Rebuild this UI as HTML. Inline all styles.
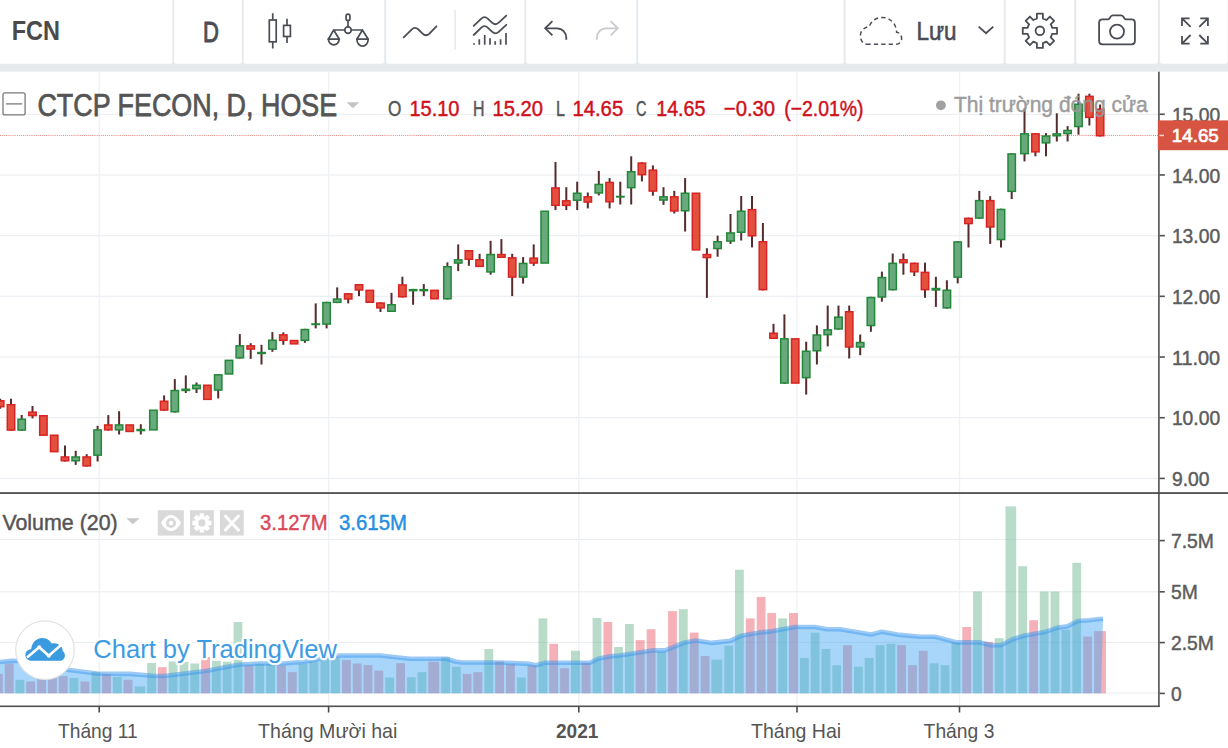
<!DOCTYPE html>
<html lang="vi">
<head>
<meta charset="utf-8">
<title>FCN - CTCP FECON</title>
<style>
html,body{margin:0;padding:0;background:#fff;}
body{width:1228px;height:748px;overflow:hidden;position:relative;font-family:"Liberation Sans",sans-serif;}
svg{position:absolute;left:0;top:0;display:block;}
text{font-family:"Liberation Sans",sans-serif;}
</style>
</head>
<body>
<svg width="1228" height="748" viewBox="0 0 1228 748">

<rect x="0" y="0" width="1228" height="748" fill="#ffffff"/>
<rect x="0" y="0" width="1228" height="71.7" fill="#e7eaed"/>
<path d="M0,0 H172.3 V61.3 Q172.3,63.8 169.8,63.8 H0 Z" fill="#fff"/>
<path d="M174.2,0 H241.8 V61.3 Q241.8,63.8 239.3,63.8 H176.7 Q174.2,63.8 174.2,61.3 Z" fill="#fff"/>
<path d="M243.8,0 H384.2 V61.3 Q384.2,63.8 381.7,63.8 H246.3 Q243.8,63.8 243.8,61.3 Z" fill="#fff"/>
<path d="M386.2,0 H524.3 V61.3 Q524.3,63.8 521.8,63.8 H388.7 Q386.2,63.8 386.2,61.3 Z" fill="#fff"/>
<path d="M526.3,0 H636.2 V61.3 Q636.2,63.8 633.7,63.8 H528.8 Q526.3,63.8 526.3,61.3 Z" fill="#fff"/>
<path d="M638.2,0 H843.6 V61.3 Q843.6,63.8 841.1,63.8 H640.7 Q638.2,63.8 638.2,61.3 Z" fill="#fff"/>
<path d="M845.7,0 H1003.7 V61.3 Q1003.7,63.8 1001.2,63.8 H848.2 Q845.7,63.8 845.7,61.3 Z" fill="#fff"/>
<path d="M1005.7,0 H1074.2 V61.3 Q1074.2,63.8 1071.7,63.8 H1008.2 Q1005.7,63.8 1005.7,61.3 Z" fill="#fff"/>
<path d="M1076.2,0 H1157.9 V61.3 Q1157.9,63.8 1155.4,63.8 H1078.7 Q1076.2,63.8 1076.2,61.3 Z" fill="#fff"/>
<path d="M1159.9,0 H1227.6 V61.3 Q1227.6,63.8 1225.1,63.8 H1162.4 Q1159.9,63.8 1159.9,61.3 Z" fill="#fff"/>
 <text x="11.7" y="39.8" font-size="27.6" font-weight="bold" fill="#4a4a4a" textLength="48.3" lengthAdjust="spacingAndGlyphs">FCN</text>
<text x="203.1" y="42" font-size="28.8" fill="#4a4d55" textLength="15.9" lengthAdjust="spacingAndGlyphs" stroke="#4a4d55" stroke-width="0.9">D</text>
<g fill="none" stroke="#4a4d55" stroke-width="1.7" stroke-linecap="butt"><rect x="269.3" y="20" width="6.9" height="21.8"/><path d="M272.75,13.3V20M272.75,41.8V48.5"/><rect x="283.6" y="25.4" width="6.8" height="11.1"/><path d="M287,18.7V25.4M287,36.5V43.1"/></g>
<g fill="none" stroke="#4a4d55" stroke-width="1.7" stroke-linejoin="round" stroke-linecap="round"><rect x="346.1" y="14.1" width="3.8" height="6.6" rx="1.9"/><path d="M348,20.7V26.7"/><circle cx="348" cy="30.1" r="3.3"/><path d="M344.7,30H333.7L328.3,39.2H339.3L333.7,30"/><path d="M351.3,30H362.4L356.9,39.2H368.2L362.4,30"/><path d="M328.3,39.2A5.6,6.9 0 0 0 339.3,39.2"/><path d="M356.9,39.2A5.6,6.9 0 0 0 368.2,39.2"/></g>
<g fill="none" stroke="#4a4d55" stroke-width="1.8" stroke-linecap="round" stroke-linejoin="round"><path d="M403.7,37.3L411.6,29.6C413.8,27.4 416.2,27.4 418.4,29.5L422.6,33.6C424.8,35.7 427.2,35.7 429.4,33.6L436.4,26.3"/></g>
<rect x="454.5" y="10" width="1.2" height="39.5" fill="#dfe1e5"/>
<g fill="none" stroke="#4a4d55" stroke-width="1.8" stroke-linecap="round" stroke-linejoin="round"><path d="M473.7,25.9L481.3,18.6C483.4,16.6 485.6,16.6 487.7,18.6L492.3,22.8C494.4,24.7 496.6,24.7 498.7,22.7L506.3,15.7"/><path d="M473.7,35L481.3,27.7C483.4,25.7 485.6,25.7 487.7,27.7L492.3,31.9C494.4,33.8 496.6,33.8 498.7,31.8L506.3,24.8"/></g>
<g fill="none" stroke="#4a4d55" stroke-width="1.7" stroke-linecap="butt"><path d="M474.1,43.2V44.8M479.3,39.2V44.8M484.7,34.9V44.8M490,38.3V44.8M495.2,41.3V44.8M500.6,39.2V44.8M506,32.9V44.8"/></g>
<g fill="none" stroke="#4a4d55" stroke-width="1.8" stroke-linecap="butt" stroke-linejoin="miter"><path d="M552.4,21.2L545.2,28.3L552.4,35.4"/><path d="M545.4,28.3H557C562.3,28.3 566.3,32.5 566.3,38V39.8"/></g>
<g fill="none" stroke="#c9cbcf" stroke-width="1.8" stroke-linecap="butt" stroke-linejoin="miter"><path d="M610.6,21.2L617.8,28.3L610.6,35.4"/><path d="M617.6,28.3H606C600.7,28.3 596.9,32.5 596.9,38V39.8"/></g>
<path d="M866.5,44.2H896.5C899.5,44.2 901.6,41.6 901.6,38.4C901.6,35 899.5,32.6 896.6,32.2C896.4,24 890.4,17.4 882.4,17.4C876.2,17.4 871.2,21 869.2,26.6C864.2,27.2 860.4,31 860.4,35.6C860.4,40.4 863.2,44.2 866.5,44.2Z" fill="none" stroke="#4a4d55" stroke-width="1.5" stroke-dasharray="4.2 3.2" stroke-linecap="butt"/>
<text x="916.5" y="39.7" font-size="25.6" fill="#4a4d55" stroke="#4a4d55" stroke-width="0.6" textLength="40" lengthAdjust="spacingAndGlyphs">Lưu</text>
<path d="M978.7,26.6L986,33.2L993.3,26.6" fill="none" stroke="#4a4d55" stroke-width="1.8"/>
<g fill="none" stroke="#4a4d55" stroke-width="1.8" stroke-linejoin="round"><path d="M1036.90,18.56L1036.90,13.66L1042.90,13.66L1042.90,18.56A12.6,12.6 0 0 1 1046.43,20.03L1049.90,16.56L1054.14,20.80L1050.67,24.27A12.6,12.6 0 0 1 1052.14,27.80L1057.04,27.80L1057.04,33.80L1052.14,33.80A12.6,12.6 0 0 1 1050.67,37.33L1054.14,40.80L1049.90,45.04L1046.43,41.57A12.6,12.6 0 0 1 1042.90,43.04L1042.90,47.94L1036.90,47.94L1036.90,43.04A12.6,12.6 0 0 1 1033.37,41.57L1029.90,45.04L1025.66,40.80L1029.13,37.33A12.6,12.6 0 0 1 1027.66,33.80L1022.76,33.80L1022.76,27.80L1027.66,27.80A12.6,12.6 0 0 1 1029.13,24.27L1025.66,20.80L1029.90,16.56L1033.37,20.03A12.6,12.6 0 0 1 1036.90,18.56Z"/><circle cx="1039.9" cy="30.8" r="4.3"/></g>
<g fill="none" stroke="#4a4d55" stroke-width="1.8" stroke-linejoin="round"><path d="M1102.4,19.4H1107.6C1108.6,19.4 1109.2,19 1109.7,18.2L1110.8,16.4C1111.3,15.6 1111.9,15.3 1112.9,15.3H1121.1C1122.1,15.3 1122.7,15.6 1123.2,16.4L1124.3,18.2C1124.8,19 1125.4,19.4 1126.4,19.4H1131.6C1133.6,19.4 1134.9,20.7 1134.9,22.7V41C1134.9,43 1133.6,44.3 1131.6,44.3H1102.4C1100.4,44.3 1099.1,43 1099.1,41V22.7C1099.1,20.7 1100.4,19.4 1102.4,19.4Z"/><circle cx="1117" cy="31.6" r="7"/></g>
<g fill="none" stroke="#4a4d55" stroke-width="1.8" stroke-linecap="butt" stroke-linejoin="miter"><path d="M1189.6,18.3H1182V25.9M1182,18.3L1190.6,26.9"/><path d="M1200.3,18.3H1207.9V25.9M1207.9,18.3L1199.3,26.9"/><path d="M1189.6,43.6H1182V36M1182,43.6L1190.6,35"/><path d="M1200.3,43.6H1207.9V36M1207.9,43.6L1199.3,35"/></g>
<rect x="0" y="113.8" width="1158" height="1" fill="#e8ebf0"/>
<rect x="0" y="174.5" width="1158" height="1" fill="#e8ebf0"/>
<rect x="0" y="235.2" width="1158" height="1" fill="#e8ebf0"/>
<rect x="0" y="295.8" width="1158" height="1" fill="#e8ebf0"/>
<rect x="0" y="356.5" width="1158" height="1" fill="#e8ebf0"/>
<rect x="0" y="417.2" width="1158" height="1" fill="#e8ebf0"/>
<rect x="0" y="477.9" width="1158" height="1" fill="#e8ebf0"/>
<rect x="0" y="539.1" width="1158" height="1" fill="#e8ebf0"/>
<rect x="0" y="591.3" width="1158" height="1" fill="#e8ebf0"/>
<rect x="0" y="641.9" width="1158" height="1" fill="#e8ebf0"/>
<rect x="0" y="692.5" width="1158" height="1" fill="#e8ebf0"/>
<rect x="98.5" y="71.7" width="1.4" height="634.5" fill="#eff2f4"/>
<rect x="327.90000000000003" y="71.7" width="1.4" height="634.5" fill="#eff2f4"/>
<rect x="578.0999999999999" y="71.7" width="1.4" height="634.5" fill="#eff2f4"/>
<rect x="796.3" y="71.7" width="1.4" height="634.5" fill="#eff2f4"/>
<rect x="958.8" y="71.7" width="1.4" height="634.5" fill="#eff2f4"/>
<g>
<rect x="-6.00" y="673.9" width="8.8" height="19.4" fill="rgba(236,100,112,0.5)"/>
<rect x="4.80" y="663.5" width="8.8" height="29.8" fill="rgba(236,100,112,0.5)"/>
<rect x="15.50" y="679.8" width="8.8" height="13.5" fill="rgba(113,185,147,0.5)"/>
<rect x="26.30" y="681.5" width="8.8" height="11.8" fill="rgba(236,100,112,0.5)"/>
<rect x="37.20" y="678" width="8.8" height="15.3" fill="rgba(236,100,112,0.5)"/>
<rect x="48.00" y="676" width="8.8" height="17.3" fill="rgba(236,100,112,0.5)"/>
<rect x="58.80" y="676.2" width="8.8" height="17.1" fill="rgba(236,100,112,0.5)"/>
<rect x="69.50" y="677.9" width="8.9" height="15.4" fill="rgba(113,185,147,0.5)"/>
<rect x="80.50" y="681.5" width="8.8" height="11.8" fill="rgba(236,100,112,0.5)"/>
<rect x="91.40" y="672.1" width="8.8" height="21.2" fill="rgba(113,185,147,0.5)"/>
<rect x="102.10" y="674.1" width="8.8" height="19.2" fill="rgba(236,100,112,0.5)"/>
<rect x="112.90" y="676.8" width="8.8" height="16.5" fill="rgba(113,185,147,0.5)"/>
<rect x="123.50" y="679.8" width="9.0" height="13.5" fill="rgba(236,100,112,0.5)"/>
<rect x="134.60" y="686.4" width="10.5" height="6.9" fill="rgba(113,185,147,0.5)"/>
<rect x="147.20" y="663" width="8.8" height="30.3" fill="rgba(113,185,147,0.5)"/>
<rect x="157.90" y="667.2" width="8.8" height="26.1" fill="rgba(236,100,112,0.5)"/>
<rect x="168.60" y="661.5" width="8.9" height="31.8" fill="rgba(113,185,147,0.5)"/>
<rect x="179.60" y="662" width="8.8" height="31.3" fill="rgba(113,185,147,0.5)"/>
<rect x="190.30" y="663.5" width="8.8" height="29.8" fill="rgba(113,185,147,0.5)"/>
<rect x="201.20" y="657" width="8.8" height="36.3" fill="rgba(236,100,112,0.5)"/>
<rect x="212.00" y="660.8" width="8.8" height="32.5" fill="rgba(113,185,147,0.5)"/>
<rect x="222.80" y="661.7" width="8.8" height="31.6" fill="rgba(113,185,147,0.5)"/>
<rect x="233.60" y="622" width="8.8" height="71.3" fill="rgba(113,185,147,0.5)"/>
<rect x="244.50" y="665.5" width="8.8" height="27.8" fill="rgba(236,100,112,0.5)"/>
<rect x="255.30" y="664" width="8.8" height="29.3" fill="rgba(113,185,147,0.5)"/>
<rect x="266.20" y="664" width="8.8" height="29.3" fill="rgba(113,185,147,0.5)"/>
<rect x="277.10" y="665.5" width="8.8" height="27.8" fill="rgba(236,100,112,0.5)"/>
<rect x="287.90" y="672.2" width="8.8" height="21.1" fill="rgba(236,100,112,0.5)"/>
<rect x="298.70" y="664" width="8.8" height="29.3" fill="rgba(113,185,147,0.5)"/>
<rect x="309.50" y="661.5" width="8.8" height="31.8" fill="rgba(113,185,147,0.5)"/>
<rect x="320.40" y="658.8" width="8.8" height="34.5" fill="rgba(113,185,147,0.5)"/>
<rect x="331.00" y="657.5" width="8.9" height="35.8" fill="rgba(113,185,147,0.5)"/>
<rect x="342.00" y="660.1" width="8.8" height="33.2" fill="rgba(236,100,112,0.5)"/>
<rect x="352.80" y="663.5" width="8.8" height="29.8" fill="rgba(236,100,112,0.5)"/>
<rect x="363.60" y="665.1" width="8.8" height="28.2" fill="rgba(236,100,112,0.5)"/>
<rect x="374.30" y="670.6" width="8.9" height="22.7" fill="rgba(236,100,112,0.5)"/>
<rect x="385.30" y="677.5" width="8.8" height="15.8" fill="rgba(113,185,147,0.5)"/>
<rect x="396.20" y="663.2" width="8.8" height="30.1" fill="rgba(236,100,112,0.5)"/>
<rect x="406.90" y="677.2" width="8.8" height="16.1" fill="rgba(113,185,147,0.5)"/>
<rect x="417.60" y="672.2" width="8.8" height="21.1" fill="rgba(113,185,147,0.5)"/>
<rect x="428.30" y="661.7" width="10.8" height="31.6" fill="rgba(236,100,112,0.5)"/>
<rect x="441.20" y="657.5" width="8.8" height="35.8" fill="rgba(113,185,147,0.5)"/>
<rect x="452.00" y="666.8" width="8.8" height="26.5" fill="rgba(113,185,147,0.5)"/>
<rect x="462.70" y="673.9" width="8.8" height="19.4" fill="rgba(236,100,112,0.5)"/>
<rect x="473.40" y="672.2" width="8.9" height="21.1" fill="rgba(236,100,112,0.5)"/>
<rect x="484.40" y="649" width="8.8" height="44.3" fill="rgba(113,185,147,0.5)"/>
<rect x="495.20" y="661.5" width="8.8" height="31.8" fill="rgba(236,100,112,0.5)"/>
<rect x="506.00" y="664.1" width="8.8" height="29.2" fill="rgba(236,100,112,0.5)"/>
<rect x="516.90" y="677.5" width="8.8" height="15.8" fill="rgba(113,185,147,0.5)"/>
<rect x="527.50" y="665.5" width="8.9" height="27.8" fill="rgba(236,100,112,0.5)"/>
<rect x="538.50" y="618.4" width="8.8" height="74.9" fill="rgba(113,185,147,0.5)"/>
<rect x="549.30" y="643.8" width="8.8" height="49.5" fill="rgba(236,100,112,0.5)"/>
<rect x="560.10" y="668.2" width="8.8" height="25.1" fill="rgba(236,100,112,0.5)"/>
<rect x="571.00" y="650.8" width="8.8" height="42.5" fill="rgba(113,185,147,0.5)"/>
<rect x="581.60" y="662.8" width="8.9" height="30.5" fill="rgba(236,100,112,0.5)"/>
<rect x="592.60" y="618" width="8.8" height="75.3" fill="rgba(113,185,147,0.5)"/>
<rect x="603.40" y="622" width="8.8" height="71.3" fill="rgba(236,100,112,0.5)"/>
<rect x="614.10" y="647" width="8.8" height="46.3" fill="rgba(113,185,147,0.5)"/>
<rect x="625.00" y="624" width="8.8" height="69.3" fill="rgba(113,185,147,0.5)"/>
<rect x="635.70" y="640.1" width="8.9" height="53.2" fill="rgba(236,100,112,0.5)"/>
<rect x="646.70" y="629.2" width="8.8" height="64.1" fill="rgba(236,100,112,0.5)"/>
<rect x="657.30" y="652" width="8.8" height="41.3" fill="rgba(113,185,147,0.5)"/>
<rect x="668.10" y="611.1" width="8.8" height="82.2" fill="rgba(236,100,112,0.5)"/>
<rect x="678.90" y="609.2" width="8.8" height="84.1" fill="rgba(113,185,147,0.5)"/>
<rect x="689.80" y="632.6" width="8.8" height="60.7" fill="rgba(236,100,112,0.5)"/>
<rect x="700.70" y="656" width="8.8" height="37.3" fill="rgba(236,100,112,0.5)"/>
<rect x="711.40" y="659.6" width="10.8" height="33.7" fill="rgba(113,185,147,0.5)"/>
<rect x="724.30" y="645.7" width="8.8" height="47.6" fill="rgba(113,185,147,0.5)"/>
<rect x="735.00" y="569.7" width="8.8" height="123.6" fill="rgba(113,185,147,0.5)"/>
<rect x="745.80" y="618.4" width="8.8" height="74.9" fill="rgba(236,100,112,0.5)"/>
<rect x="756.70" y="596.9" width="8.8" height="96.4" fill="rgba(236,100,112,0.5)"/>
<rect x="767.30" y="613" width="8.8" height="80.3" fill="rgba(236,100,112,0.5)"/>
<rect x="778.20" y="618.4" width="8.8" height="74.9" fill="rgba(113,185,147,0.5)"/>
<rect x="789.00" y="613" width="8.9" height="80.3" fill="rgba(236,100,112,0.5)"/>
<rect x="800.00" y="657.9" width="8.8" height="35.4" fill="rgba(113,185,147,0.5)"/>
<rect x="810.70" y="632.6" width="8.8" height="60.7" fill="rgba(113,185,147,0.5)"/>
<rect x="821.50" y="648.9" width="8.8" height="44.4" fill="rgba(113,185,147,0.5)"/>
<rect x="832.30" y="665.2" width="8.8" height="28.1" fill="rgba(113,185,147,0.5)"/>
<rect x="843.00" y="645.2" width="8.9" height="48.1" fill="rgba(236,100,112,0.5)"/>
<rect x="854.00" y="666.7" width="8.8" height="26.6" fill="rgba(113,185,147,0.5)"/>
<rect x="864.70" y="657.9" width="8.9" height="35.4" fill="rgba(113,185,147,0.5)"/>
<rect x="875.70" y="645.2" width="8.8" height="48.1" fill="rgba(113,185,147,0.5)"/>
<rect x="886.50" y="643.7" width="8.8" height="49.6" fill="rgba(113,185,147,0.5)"/>
<rect x="897.20" y="645.2" width="8.8" height="48.1" fill="rgba(236,100,112,0.5)"/>
<rect x="908.10" y="665.2" width="8.8" height="28.1" fill="rgba(236,100,112,0.5)"/>
<rect x="918.80" y="650.8" width="8.8" height="42.5" fill="rgba(236,100,112,0.5)"/>
<rect x="929.70" y="663.3" width="8.9" height="30.0" fill="rgba(113,185,147,0.5)"/>
<rect x="940.70" y="665.2" width="8.8" height="28.1" fill="rgba(113,185,147,0.5)"/>
<rect x="951.50" y="642.4" width="8.8" height="50.9" fill="rgba(113,185,147,0.5)"/>
<rect x="962.30" y="627" width="8.8" height="66.3" fill="rgba(236,100,112,0.5)"/>
<rect x="973.10" y="591.4" width="8.8" height="101.9" fill="rgba(113,185,147,0.5)"/>
<rect x="984.00" y="641.8" width="8.8" height="51.5" fill="rgba(236,100,112,0.5)"/>
<rect x="994.80" y="638.2" width="8.8" height="55.1" fill="rgba(113,185,147,0.5)"/>
<rect x="1005.50" y="506.4" width="10.7" height="186.9" fill="rgba(113,185,147,0.5)"/>
<rect x="1018.30" y="566.2" width="8.8" height="127.1" fill="rgba(113,185,147,0.5)"/>
<rect x="1029.20" y="620.2" width="8.8" height="73.1" fill="rgba(236,100,112,0.5)"/>
<rect x="1039.80" y="591.5" width="8.8" height="101.8" fill="rgba(113,185,147,0.5)"/>
<rect x="1050.60" y="591.5" width="8.8" height="101.8" fill="rgba(113,185,147,0.5)"/>
<rect x="1061.40" y="629.7" width="8.8" height="63.6" fill="rgba(113,185,147,0.5)"/>
<rect x="1072.30" y="562.8" width="8.8" height="130.5" fill="rgba(113,185,147,0.5)"/>
<rect x="1083.20" y="636.5" width="8.8" height="56.8" fill="rgba(236,100,112,0.5)"/>
<rect x="1094.1" y="631.1" width="11.8" height="62.2" fill="rgba(236,100,112,0.5)"/>
</g>
<path d="M-3,662.3 L0,662 L11,660.8 L22,661 L33,662.5 L43,664.5 L54,667 L65,669.5 L75,670.8 L97,673.5 L130,673.9 L153,675.8 L164,676 L185,673.5 L207,670.8 L229,666.5 L240,664.5 L260,663.5 L283,663.5 L305,661.7 L326,657.5 L340,655.5 L380,655.5 L410,658.8 L447,658.8 L455,661.5 L462,662.5 L500,662.5 L530,663.9 L536,665.2 L545,662.8 L590,662.8 L598,658.8 L612,656.1 L620,655.5 L652,650.4 L665,650.4 L685,642.4 L696,640.5 L712,642.9 L730,640.9 L741,635.8 L763,632.1 L773,631.1 L795,627 L815,627 L827,629.2 L840,629.2 L871,634.5 L882,631.7 L900,634.9 L920,636.7 L935,636.7 L957,642.4 L980,642.4 L991,645.2 L1001,645.2 L1012,639.5 L1024,635.8 L1046,631.7 L1057,627.8 L1067,626.4 L1078,621 L1089,620.3 L1100,619 L1103,618.7 L1101,693.3 L-3,693.3 Z" fill="rgba(66,166,244,0.46)"/>
<path d="M-3,662.3 L0,662 L11,660.8 L22,661 L33,662.5 L43,664.5 L54,667 L65,669.5 L75,670.8 L97,673.5 L130,673.9 L153,675.8 L164,676 L185,673.5 L207,670.8 L229,666.5 L240,664.5 L260,663.5 L283,663.5 L305,661.7 L326,657.5 L340,655.5 L380,655.5 L410,658.8 L447,658.8 L455,661.5 L462,662.5 L500,662.5 L530,663.9 L536,665.2 L545,662.8 L590,662.8 L598,658.8 L612,656.1 L620,655.5 L652,650.4 L665,650.4 L685,642.4 L696,640.5 L712,642.9 L730,640.9 L741,635.8 L763,632.1 L773,631.1 L795,627 L815,627 L827,629.2 L840,629.2 L871,634.5 L882,631.7 L900,634.9 L920,636.7 L935,636.7 L957,642.4 L980,642.4 L991,645.2 L1001,645.2 L1012,639.5 L1024,635.8 L1046,631.7 L1057,627.8 L1067,626.4 L1078,621 L1089,620.3 L1100,619 L1103,618.7" fill="none"  stroke="rgba(60,150,235,0.5)" stroke-width="4.6" stroke-linecap="butt" stroke-linejoin="round"/>
<path d="M0,135.5H1158"  stroke="#e2685f" stroke-opacity="0.8" stroke-width="1" stroke-dasharray="1 1.1" fill="none"/>
<g>
<rect x="-0.80" y="398.7" width="2" height="10.0" fill="#552d2d"/>
<rect x="-3.50" y="400.75" width="7.4" height="5.90" fill="#e4503e" stroke="#d72323" stroke-width="1.5"/>
<rect x="10.00" y="398.7" width="2" height="32.1" fill="#552d2d"/>
<rect x="7.30" y="404.75" width="7.4" height="25.30" fill="#e4503e" stroke="#d72323" stroke-width="1.5"/>
<rect x="20.70" y="415" width="2" height="15.8" fill="#552d2d"/>
<rect x="18.00" y="419.25" width="7.4" height="10.80" fill="#69aa7d" stroke="#23873a" stroke-width="1.5"/>
<rect x="31.50" y="406" width="2" height="12.4" fill="#552d2d"/>
<rect x="28.80" y="412.15" width="7.4" height="3.40" fill="#e4503e" stroke="#d72323" stroke-width="1.5"/>
<rect x="39.70" y="415.75" width="7.4" height="19.40" fill="#e4503e" stroke="#d72323" stroke-width="1.5"/>
<rect x="50.50" y="435.25" width="7.4" height="16.40" fill="#e4503e" stroke="#d72323" stroke-width="1.5"/>
<rect x="64.00" y="445.5" width="2" height="16.0" fill="#552d2d"/>
<rect x="61.30" y="456.95" width="7.4" height="3.80" fill="#e4503e" stroke="#d72323" stroke-width="1.5"/>
<rect x="74.70" y="450.8" width="2" height="14.1" fill="#552d2d"/>
<rect x="72.00" y="456.95" width="7.4" height="3.80" fill="#69aa7d" stroke="#23873a" stroke-width="1.5"/>
<rect x="85.70" y="454.2" width="2" height="12.4" fill="#552d2d"/>
<rect x="83.00" y="456.95" width="7.4" height="8.90" fill="#e4503e" stroke="#d72323" stroke-width="1.5"/>
<rect x="96.60" y="425.8" width="2" height="35.7" fill="#552d2d"/>
<rect x="93.90" y="429.95" width="7.4" height="25.20" fill="#69aa7d" stroke="#23873a" stroke-width="1.5"/>
<rect x="107.30" y="415.1" width="2" height="15.5" fill="#552d2d"/>
<rect x="104.60" y="424.95" width="7.4" height="4.90" fill="#e4503e" stroke="#d72323" stroke-width="1.5"/>
<rect x="118.10" y="411.2" width="2" height="23.3" fill="#552d2d"/>
<rect x="115.40" y="424.95" width="7.4" height="4.90" fill="#69aa7d" stroke="#23873a" stroke-width="1.5"/>
<rect x="126.00" y="424.95" width="7.4" height="6.50" fill="#e4503e" stroke="#d72323" stroke-width="1.5"/>
<rect x="139.80" y="424.2" width="2" height="10.3" fill="#552d2d"/>
<rect x="136.35" y="428.8" width="8.9" height="2.5" fill="#23873a"/>
<rect x="149.70" y="410.25" width="7.4" height="19.60" fill="#69aa7d" stroke="#23873a" stroke-width="1.5"/>
<rect x="163.10" y="395.4" width="2" height="15.4" fill="#552d2d"/>
<rect x="160.40" y="401.25" width="7.4" height="8.80" fill="#e4503e" stroke="#d72323" stroke-width="1.5"/>
<rect x="173.80" y="379.1" width="2" height="33.4" fill="#552d2d"/>
<rect x="171.10" y="390.55" width="7.4" height="21.20" fill="#69aa7d" stroke="#23873a" stroke-width="1.5"/>
<rect x="184.80" y="375.4" width="2" height="17.6" fill="#552d2d"/>
<rect x="181.35" y="388.5" width="8.9" height="2.7" fill="#23873a"/>
<rect x="195.50" y="382.5" width="2" height="10.5" fill="#552d2d"/>
<rect x="192.80" y="385.25" width="7.4" height="3.40" fill="#69aa7d" stroke="#23873a" stroke-width="1.5"/>
<rect x="203.70" y="385.25" width="7.4" height="14.10" fill="#e4503e" stroke="#d72323" stroke-width="1.5"/>
<rect x="217.20" y="374.1" width="2" height="24.3" fill="#552d2d"/>
<rect x="214.50" y="374.85" width="7.4" height="15.20" fill="#69aa7d" stroke="#23873a" stroke-width="1.5"/>
<rect x="225.30" y="360.35" width="7.4" height="13.60" fill="#69aa7d" stroke="#23873a" stroke-width="1.5"/>
<rect x="238.80" y="334.1" width="2" height="24.5" fill="#552d2d"/>
<rect x="236.10" y="345.85" width="7.4" height="12.00" fill="#69aa7d" stroke="#23873a" stroke-width="1.5"/>
<rect x="249.70" y="343.2" width="2" height="15.7" fill="#552d2d"/>
<rect x="247.00" y="345.85" width="7.4" height="3.20" fill="#e4503e" stroke="#d72323" stroke-width="1.5"/>
<rect x="260.50" y="344.8" width="2" height="19.7" fill="#552d2d"/>
<rect x="257.05" y="351.8" width="8.9" height="2.4" fill="#23873a"/>
<rect x="271.40" y="332.1" width="2" height="19.7" fill="#552d2d"/>
<rect x="268.70" y="340.25" width="7.4" height="8.90" fill="#69aa7d" stroke="#23873a" stroke-width="1.5"/>
<rect x="282.30" y="332.4" width="2" height="12.4" fill="#552d2d"/>
<rect x="279.60" y="334.85" width="7.4" height="5.50" fill="#e4503e" stroke="#d72323" stroke-width="1.5"/>
<rect x="290.40" y="340.55" width="7.4" height="3.30" fill="#e4503e" stroke="#d72323" stroke-width="1.5"/>
<rect x="303.90" y="328.8" width="2" height="14.0" fill="#552d2d"/>
<rect x="301.20" y="329.55" width="7.4" height="10.80" fill="#69aa7d" stroke="#23873a" stroke-width="1.5"/>
<rect x="314.70" y="303.4" width="2" height="25.0" fill="#552d2d"/>
<rect x="311.25" y="323.2" width="8.9" height="2.0" fill="#23873a"/>
<rect x="325.60" y="301.8" width="2" height="26.6" fill="#552d2d"/>
<rect x="322.90" y="302.55" width="7.4" height="21.50" fill="#69aa7d" stroke="#23873a" stroke-width="1.5"/>
<rect x="336.20" y="287.4" width="2" height="15.7" fill="#552d2d"/>
<rect x="333.50" y="299.05" width="7.4" height="3.30" fill="#69aa7d" stroke="#23873a" stroke-width="1.5"/>
<rect x="347.20" y="293.1" width="2" height="10.3" fill="#552d2d"/>
<rect x="344.50" y="293.85" width="7.4" height="5.10" fill="#e4503e" stroke="#d72323" stroke-width="1.5"/>
<rect x="358.00" y="284" width="2" height="12.1" fill="#552d2d"/>
<rect x="355.30" y="284.75" width="7.4" height="5.20" fill="#e4503e" stroke="#d72323" stroke-width="1.5"/>
<rect x="366.10" y="290.35" width="7.4" height="11.90" fill="#e4503e" stroke="#d72323" stroke-width="1.5"/>
<rect x="379.50" y="302.3" width="2" height="9.7" fill="#552d2d"/>
<rect x="376.80" y="303.05" width="7.4" height="4.80" fill="#e4503e" stroke="#d72323" stroke-width="1.5"/>
<rect x="390.50" y="292.8" width="2" height="19.2" fill="#552d2d"/>
<rect x="387.80" y="304.75" width="7.4" height="6.50" fill="#69aa7d" stroke="#23873a" stroke-width="1.5"/>
<rect x="401.40" y="276.7" width="2" height="20.8" fill="#552d2d"/>
<rect x="398.70" y="284.95" width="7.4" height="11.80" fill="#e4503e" stroke="#d72323" stroke-width="1.5"/>
<rect x="412.10" y="288.9" width="2" height="15.9" fill="#552d2d"/>
<rect x="408.65" y="288.9" width="8.9" height="2.5" fill="#23873a"/>
<rect x="422.80" y="284.1" width="2" height="12.0" fill="#552d2d"/>
<rect x="419.35" y="288.9" width="8.9" height="2.5" fill="#23873a"/>
<rect x="430.80" y="290.35" width="7.4" height="8.40" fill="#e4503e" stroke="#d72323" stroke-width="1.5"/>
<rect x="446.40" y="262.4" width="2" height="37.1" fill="#552d2d"/>
<rect x="443.70" y="266.75" width="7.4" height="32.00" fill="#69aa7d" stroke="#23873a" stroke-width="1.5"/>
<rect x="457.20" y="244.4" width="2" height="26.7" fill="#552d2d"/>
<rect x="454.50" y="259.85" width="7.4" height="3.20" fill="#69aa7d" stroke="#23873a" stroke-width="1.5"/>
<rect x="467.90" y="250" width="2" height="15.8" fill="#552d2d"/>
<rect x="465.20" y="250.75" width="7.4" height="8.50" fill="#e4503e" stroke="#d72323" stroke-width="1.5"/>
<rect x="478.60" y="253.8" width="2" height="13.3" fill="#552d2d"/>
<rect x="475.90" y="259.85" width="7.4" height="6.50" fill="#e4503e" stroke="#d72323" stroke-width="1.5"/>
<rect x="489.60" y="240.8" width="2" height="33.9" fill="#552d2d"/>
<rect x="486.90" y="254.55" width="7.4" height="17.40" fill="#69aa7d" stroke="#23873a" stroke-width="1.5"/>
<rect x="500.40" y="239.1" width="2" height="18.9" fill="#552d2d"/>
<rect x="497.70" y="254.55" width="7.4" height="2.70" fill="#e4503e" stroke="#d72323" stroke-width="1.5"/>
<rect x="511.20" y="253.8" width="2" height="42.3" fill="#552d2d"/>
<rect x="508.50" y="257.85" width="7.4" height="19.20" fill="#e4503e" stroke="#d72323" stroke-width="1.5"/>
<rect x="522.10" y="257.1" width="2" height="26.5" fill="#552d2d"/>
<rect x="519.40" y="263.45" width="7.4" height="13.60" fill="#69aa7d" stroke="#23873a" stroke-width="1.5"/>
<rect x="532.70" y="244.4" width="2" height="21.4" fill="#552d2d"/>
<rect x="530.00" y="258.15" width="7.4" height="4.90" fill="#e4503e" stroke="#d72323" stroke-width="1.5"/>
<rect x="541.00" y="211.25" width="7.4" height="51.80" fill="#69aa7d" stroke="#23873a" stroke-width="1.5"/>
<rect x="554.50" y="162" width="2" height="48.1" fill="#552d2d"/>
<rect x="551.80" y="187.95" width="7.4" height="17.40" fill="#e4503e" stroke="#d72323" stroke-width="1.5"/>
<rect x="565.30" y="187.2" width="2" height="22.9" fill="#552d2d"/>
<rect x="562.60" y="200.85" width="7.4" height="4.50" fill="#e4503e" stroke="#d72323" stroke-width="1.5"/>
<rect x="576.20" y="181.7" width="2" height="28.4" fill="#552d2d"/>
<rect x="573.50" y="193.25" width="7.4" height="7.00" fill="#69aa7d" stroke="#23873a" stroke-width="1.5"/>
<rect x="586.80" y="192.5" width="2" height="15.9" fill="#552d2d"/>
<rect x="584.10" y="196.85" width="7.4" height="5.20" fill="#e4503e" stroke="#d72323" stroke-width="1.5"/>
<rect x="597.80" y="171" width="2" height="24.4" fill="#552d2d"/>
<rect x="595.10" y="184.45" width="7.4" height="8.50" fill="#69aa7d" stroke="#23873a" stroke-width="1.5"/>
<rect x="608.60" y="178.1" width="2" height="30.3" fill="#552d2d"/>
<rect x="605.90" y="182.45" width="7.4" height="19.30" fill="#e4503e" stroke="#d72323" stroke-width="1.5"/>
<rect x="619.30" y="181.7" width="2" height="22.8" fill="#552d2d"/>
<rect x="615.85" y="195.7" width="8.9" height="2.0" fill="#23873a"/>
<rect x="630.20" y="156.3" width="2" height="48.2" fill="#552d2d"/>
<rect x="627.50" y="171.75" width="7.4" height="15.90" fill="#69aa7d" stroke="#23873a" stroke-width="1.5"/>
<rect x="640.90" y="162.3" width="2" height="19.1" fill="#552d2d"/>
<rect x="638.20" y="163.05" width="7.4" height="11.60" fill="#e4503e" stroke="#d72323" stroke-width="1.5"/>
<rect x="651.90" y="165.4" width="2" height="30.3" fill="#552d2d"/>
<rect x="649.20" y="170.15" width="7.4" height="20.90" fill="#e4503e" stroke="#d72323" stroke-width="1.5"/>
<rect x="662.50" y="187.2" width="2" height="17.6" fill="#552d2d"/>
<rect x="659.80" y="196.85" width="7.4" height="3.20" fill="#69aa7d" stroke="#23873a" stroke-width="1.5"/>
<rect x="673.30" y="190.8" width="2" height="22.7" fill="#552d2d"/>
<rect x="670.60" y="196.85" width="7.4" height="14.10" fill="#e4503e" stroke="#d72323" stroke-width="1.5"/>
<rect x="684.10" y="178.1" width="2" height="53.4" fill="#552d2d"/>
<rect x="681.40" y="193.25" width="7.4" height="17.50" fill="#69aa7d" stroke="#23873a" stroke-width="1.5"/>
<rect x="692.30" y="193.25" width="7.4" height="56.60" fill="#e4503e" stroke="#d72323" stroke-width="1.5"/>
<rect x="705.90" y="248.2" width="2" height="49.7" fill="#552d2d"/>
<rect x="703.20" y="254.55" width="7.4" height="3.00" fill="#e4503e" stroke="#d72323" stroke-width="1.5"/>
<rect x="716.60" y="235.7" width="2" height="21.0" fill="#552d2d"/>
<rect x="713.90" y="241.75" width="7.4" height="6.80" fill="#69aa7d" stroke="#23873a" stroke-width="1.5"/>
<rect x="729.50" y="214" width="2" height="29.9" fill="#552d2d"/>
<rect x="726.80" y="232.95" width="7.4" height="8.10" fill="#69aa7d" stroke="#23873a" stroke-width="1.5"/>
<rect x="740.20" y="196" width="2" height="44.5" fill="#552d2d"/>
<rect x="737.50" y="211.25" width="7.4" height="21.00" fill="#69aa7d" stroke="#23873a" stroke-width="1.5"/>
<rect x="751.00" y="196" width="2" height="51.4" fill="#552d2d"/>
<rect x="748.30" y="209.65" width="7.4" height="26.10" fill="#e4503e" stroke="#d72323" stroke-width="1.5"/>
<rect x="761.90" y="223" width="2" height="67.4" fill="#552d2d"/>
<rect x="759.20" y="241.75" width="7.4" height="47.90" fill="#e4503e" stroke="#d72323" stroke-width="1.5"/>
<rect x="772.50" y="323.8" width="2" height="15.2" fill="#552d2d"/>
<rect x="769.80" y="333.25" width="7.4" height="5.00" fill="#e4503e" stroke="#d72323" stroke-width="1.5"/>
<rect x="783.40" y="314.4" width="2" height="69.4" fill="#552d2d"/>
<rect x="780.70" y="338.85" width="7.4" height="44.20" fill="#69aa7d" stroke="#23873a" stroke-width="1.5"/>
<rect x="791.50" y="338.85" width="7.4" height="44.20" fill="#e4503e" stroke="#d72323" stroke-width="1.5"/>
<rect x="805.20" y="341.7" width="2" height="52.9" fill="#552d2d"/>
<rect x="802.50" y="351.25" width="7.4" height="26.40" fill="#69aa7d" stroke="#23873a" stroke-width="1.5"/>
<rect x="815.90" y="325.4" width="2" height="39.1" fill="#552d2d"/>
<rect x="813.20" y="335.05" width="7.4" height="15.70" fill="#69aa7d" stroke="#23873a" stroke-width="1.5"/>
<rect x="826.70" y="305.6" width="2" height="40.8" fill="#552d2d"/>
<rect x="824.00" y="329.85" width="7.4" height="4.80" fill="#69aa7d" stroke="#23873a" stroke-width="1.5"/>
<rect x="837.50" y="305.6" width="2" height="24.1" fill="#552d2d"/>
<rect x="834.80" y="317.15" width="7.4" height="11.80" fill="#69aa7d" stroke="#23873a" stroke-width="1.5"/>
<rect x="848.20" y="305.6" width="2" height="52.9" fill="#552d2d"/>
<rect x="845.50" y="311.75" width="7.4" height="35.20" fill="#e4503e" stroke="#d72323" stroke-width="1.5"/>
<rect x="859.20" y="334.5" width="2" height="20.7" fill="#552d2d"/>
<rect x="856.50" y="342.55" width="7.4" height="4.40" fill="#69aa7d" stroke="#23873a" stroke-width="1.5"/>
<rect x="869.90" y="296.8" width="2" height="35.0" fill="#552d2d"/>
<rect x="867.20" y="297.55" width="7.4" height="28.00" fill="#69aa7d" stroke="#23873a" stroke-width="1.5"/>
<rect x="880.90" y="271.6" width="2" height="30.1" fill="#552d2d"/>
<rect x="878.20" y="277.55" width="7.4" height="19.40" fill="#69aa7d" stroke="#23873a" stroke-width="1.5"/>
<rect x="891.70" y="253.5" width="2" height="36.9" fill="#552d2d"/>
<rect x="889.00" y="263.35" width="7.4" height="26.30" fill="#69aa7d" stroke="#23873a" stroke-width="1.5"/>
<rect x="902.40" y="253.5" width="2" height="21.2" fill="#552d2d"/>
<rect x="899.70" y="259.85" width="7.4" height="2.80" fill="#e4503e" stroke="#d72323" stroke-width="1.5"/>
<rect x="913.30" y="262.6" width="2" height="13.5" fill="#552d2d"/>
<rect x="910.60" y="263.35" width="7.4" height="8.40" fill="#e4503e" stroke="#d72323" stroke-width="1.5"/>
<rect x="924.00" y="262.6" width="2" height="35.2" fill="#552d2d"/>
<rect x="921.30" y="272.35" width="7.4" height="17.30" fill="#e4503e" stroke="#d72323" stroke-width="1.5"/>
<rect x="934.90" y="276.8" width="2" height="30.1" fill="#552d2d"/>
<rect x="931.45" y="287.8" width="8.9" height="2.9" fill="#23873a"/>
<rect x="945.90" y="280.3" width="2" height="28.3" fill="#552d2d"/>
<rect x="943.20" y="290.25" width="7.4" height="17.60" fill="#69aa7d" stroke="#23873a" stroke-width="1.5"/>
<rect x="956.70" y="241.2" width="2" height="42.2" fill="#552d2d"/>
<rect x="954.00" y="241.95" width="7.4" height="35.20" fill="#69aa7d" stroke="#23873a" stroke-width="1.5"/>
<rect x="967.50" y="217.6" width="2" height="29.9" fill="#552d2d"/>
<rect x="964.80" y="218.35" width="7.4" height="5.20" fill="#e4503e" stroke="#d72323" stroke-width="1.5"/>
<rect x="978.30" y="190.9" width="2" height="27.9" fill="#552d2d"/>
<rect x="975.60" y="200.65" width="7.4" height="17.40" fill="#69aa7d" stroke="#23873a" stroke-width="1.5"/>
<rect x="989.20" y="196.2" width="2" height="47.7" fill="#552d2d"/>
<rect x="986.50" y="200.65" width="7.4" height="26.30" fill="#e4503e" stroke="#d72323" stroke-width="1.5"/>
<rect x="1000.00" y="208.7" width="2" height="38.8" fill="#552d2d"/>
<rect x="997.30" y="209.45" width="7.4" height="30.10" fill="#69aa7d" stroke="#23873a" stroke-width="1.5"/>
<rect x="1010.70" y="153.2" width="2" height="45.9" fill="#552d2d"/>
<rect x="1008.00" y="153.95" width="7.4" height="37.40" fill="#69aa7d" stroke="#23873a" stroke-width="1.5"/>
<rect x="1023.50" y="108.5" width="2" height="52.9" fill="#552d2d"/>
<rect x="1020.80" y="133.85" width="7.4" height="19.80" fill="#69aa7d" stroke="#23873a" stroke-width="1.5"/>
<rect x="1034.40" y="133.1" width="2" height="23.2" fill="#552d2d"/>
<rect x="1031.70" y="133.85" width="7.4" height="18.00" fill="#e4503e" stroke="#d72323" stroke-width="1.5"/>
<rect x="1045.00" y="133.1" width="2" height="23.2" fill="#552d2d"/>
<rect x="1042.30" y="136.05" width="7.4" height="6.80" fill="#69aa7d" stroke="#23873a" stroke-width="1.5"/>
<rect x="1055.80" y="113.3" width="2" height="28.2" fill="#552d2d"/>
<rect x="1053.10" y="133.85" width="7.4" height="1.90" fill="#69aa7d" stroke="#23873a" stroke-width="1.5"/>
<rect x="1066.60" y="126.1" width="2" height="15.4" fill="#552d2d"/>
<rect x="1063.90" y="130.45" width="7.4" height="3.10" fill="#69aa7d" stroke="#23873a" stroke-width="1.5"/>
<rect x="1077.50" y="93.7" width="2" height="41.0" fill="#552d2d"/>
<rect x="1074.80" y="104.25" width="7.4" height="22.30" fill="#69aa7d" stroke="#23873a" stroke-width="1.5"/>
<rect x="1088.40" y="93.7" width="2" height="31.8" fill="#552d2d"/>
<rect x="1085.70" y="96.35" width="7.4" height="21.00" fill="#e4503e" stroke="#d72323" stroke-width="1.5"/>
<rect x="1099.10" y="104.5" width="2" height="32.0" fill="#552d2d"/>
<rect x="1096.40" y="109.25" width="7.4" height="26.50" fill="#e4503e" stroke="#d72323" stroke-width="1.5"/>
</g>
<g fill="none" stroke="#7a7a7a" stroke-width="1.3"><rect x="3" y="92.8" width="22.1" height="22.1" rx="2"/><path d="M6,103.9H22.2"/></g>
<text x="37.4" y="115.5" font-size="31.5" fill="#555555" stroke="#555555" stroke-width="0.75" textLength="299.8" lengthAdjust="spacingAndGlyphs">CTCP FECON, D, HOSE</text>
<path d="M346.6,102.2H359.3L352.95,108.3Z" fill="#c4c4c4"/>
<text x="387.9" y="116" font-size="22" fill="#555555" textLength="13.4" lengthAdjust="spacingAndGlyphs" stroke="#555555" stroke-width="0.45">O</text>
<text x="409.4" y="116" font-size="22" fill="#d0101c" textLength="50.1" lengthAdjust="spacingAndGlyphs" stroke="#d0101c" stroke-width="0.45">15.10</text>
<text x="472.9" y="116" font-size="22" fill="#555555" textLength="11.5" lengthAdjust="spacingAndGlyphs" stroke="#555555" stroke-width="0.45">H</text>
<text x="492.5" y="116" font-size="22" fill="#d0101c" textLength="50.5" lengthAdjust="spacingAndGlyphs" stroke="#d0101c" stroke-width="0.45">15.20</text>
<text x="556" y="116" font-size="22" fill="#555555" textLength="9" lengthAdjust="spacingAndGlyphs" stroke="#555555" stroke-width="0.45">L</text>
<text x="572.4" y="116" font-size="22" fill="#d0101c" textLength="50.8" lengthAdjust="spacingAndGlyphs" stroke="#d0101c" stroke-width="0.45">14.65</text>
<text x="635.9" y="116" font-size="22" fill="#555555" textLength="10.5" lengthAdjust="spacingAndGlyphs" stroke="#555555" stroke-width="0.45">C</text>
<text x="656.2" y="116" font-size="22" fill="#d0101c" textLength="49.3" lengthAdjust="spacingAndGlyphs" stroke="#d0101c" stroke-width="0.45">14.65</text>
<text x="723.8" y="116" font-size="22" fill="#d0101c" textLength="51.3" lengthAdjust="spacingAndGlyphs" stroke="#d0101c" stroke-width="0.45">−0.30</text>
<text x="784.2" y="116" font-size="22" fill="#d0101c" textLength="79.4" lengthAdjust="spacingAndGlyphs" stroke="#d0101c" stroke-width="0.45">(−2.01%)</text>
<g opacity="0.93"><circle cx="940.9" cy="105.3" r="4.9" fill="#9a9a9a"/>
<text x="953.9" y="111.8" font-size="22.4" fill="#969696" textLength="193.9" lengthAdjust="spacingAndGlyphs" stroke="#969696" stroke-width="0.45">Thị trường đóng cửa</text>
</g>
<text x="2.4" y="529.5" font-size="22" fill="#555555" textLength="115.3" lengthAdjust="spacingAndGlyphs" stroke="#555555" stroke-width="0.45">Volume (20)</text>
<path d="M126.2,518.3H139.5L132.85,524.2Z" fill="#c8c8c8"/>
<rect x="157.8" y="510.2" width="26.0" height="25.4" fill="#d9d9d9"/>
<rect x="190" y="510.2" width="23.8" height="25.4" fill="#d9d9d9"/>
<rect x="219.9" y="510.2" width="23.8" height="25.4" fill="#d9d9d9"/>
<g><path d="M161,523C164.2,517.3 167.6,515 171,515C174.4,515 177.8,517.3 181,523C177.8,528.7 174.4,531 171,531C167.6,531 164.2,528.7 161,523Z" fill="#fff"/><circle cx="171" cy="523" r="5.1" fill="#d9d9d9"/><circle cx="171" cy="523" r="2.2" fill="#fff"/></g>
<path d="M199.90,516.30L199.90,513.61L203.90,513.61L203.90,516.30A6.9,6.9 0 0 1 205.16,516.82L207.05,514.92L209.88,517.75L207.98,519.64A6.9,6.9 0 0 1 208.50,520.90L211.19,520.90L211.19,524.90L208.50,524.90A6.9,6.9 0 0 1 207.98,526.16L209.88,528.05L207.05,530.88L205.16,528.98A6.9,6.9 0 0 1 203.90,529.50L203.90,532.19L199.90,532.19L199.90,529.50A6.9,6.9 0 0 1 198.64,528.98L196.75,530.88L193.92,528.05L195.82,526.16A6.9,6.9 0 0 1 195.30,524.90L192.61,524.90L192.61,520.90L195.30,520.90A6.9,6.9 0 0 1 195.82,519.64L193.92,517.75L196.75,514.92L198.64,516.82A6.9,6.9 0 0 1 199.90,516.30Z" fill="#fff" stroke="#fff" stroke-width="0.6" stroke-linejoin="round"/><circle cx="201.9" cy="522.9" r="3.6" fill="#d9d9d9"/>
<path d="M224.6,515.2L239.2,531M239.2,515.2L224.6,531" stroke="#fff" stroke-width="3.1" fill="none"/>
<text x="260" y="529.5" font-size="22" fill="#d8495c" textLength="67.6" lengthAdjust="spacingAndGlyphs" stroke="#d8495c" stroke-width="0.45">3.127M</text>
<text x="339" y="529.5" font-size="22" fill="#2490e0" textLength="68" lengthAdjust="spacingAndGlyphs" stroke="#2490e0" stroke-width="0.45">3.615M</text>
<rect x="1158.1" y="71.7" width="1.6" height="635.3" fill="#505050"/>
<rect x="0" y="492.2" width="1228" height="1.7" fill="#454545"/>
<rect x="0" y="705.5" width="1159.7" height="1.6" fill="#505050"/>
<rect x="1159.5" y="113.47" width="5.3" height="1.6" fill="#505050"/>
<text x="1171.9" y="121.87" font-size="20.6" fill="#5c5c5c" stroke="#5c5c5c" stroke-width="0.45" textLength="48.3" lengthAdjust="spacingAndGlyphs">15.00</text>
<rect x="1159.5" y="174.16" width="5.3" height="1.6" fill="#505050"/>
<text x="1171.9" y="182.56" font-size="20.6" fill="#5c5c5c" stroke="#5c5c5c" stroke-width="0.45" textLength="48.3" lengthAdjust="spacingAndGlyphs">14.00</text>
<rect x="1159.5" y="234.85" width="5.3" height="1.6" fill="#505050"/>
<text x="1171.9" y="243.25" font-size="20.6" fill="#5c5c5c" stroke="#5c5c5c" stroke-width="0.45" textLength="48.3" lengthAdjust="spacingAndGlyphs">13.00</text>
<rect x="1159.5" y="295.54" width="5.3" height="1.6" fill="#505050"/>
<text x="1171.9" y="303.94" font-size="20.6" fill="#5c5c5c" stroke="#5c5c5c" stroke-width="0.45" textLength="48.3" lengthAdjust="spacingAndGlyphs">12.00</text>
<rect x="1159.5" y="356.23" width="5.3" height="1.6" fill="#505050"/>
<text x="1171.9" y="364.63" font-size="20.6" fill="#5c5c5c" stroke="#5c5c5c" stroke-width="0.45" textLength="48.3" lengthAdjust="spacingAndGlyphs">11.00</text>
<rect x="1159.5" y="416.92" width="5.3" height="1.6" fill="#505050"/>
<text x="1171.9" y="425.32" font-size="20.6" fill="#5c5c5c" stroke="#5c5c5c" stroke-width="0.45" textLength="48.3" lengthAdjust="spacingAndGlyphs">10.00</text>
<rect x="1159.5" y="477.61" width="5.3" height="1.6" fill="#505050"/>
<text x="1171.9" y="486.01" font-size="20.6" fill="#5c5c5c" stroke="#5c5c5c" stroke-width="0.45" textLength="37.6" lengthAdjust="spacingAndGlyphs">9.00</text>
<rect x="1159.5" y="539.80" width="5.3" height="1.6" fill="#505050"/>
<text x="1171" y="548.20" font-size="20.6" fill="#5c5c5c" stroke="#5c5c5c" stroke-width="0.45" textLength="42.9" lengthAdjust="spacingAndGlyphs">7.5M</text>
<rect x="1159.5" y="591.00" width="5.3" height="1.6" fill="#505050"/>
<text x="1171" y="599.40" font-size="20.6" fill="#5c5c5c" stroke="#5c5c5c" stroke-width="0.45" textLength="26.8" lengthAdjust="spacingAndGlyphs">5M</text>
<rect x="1159.5" y="641.80" width="5.3" height="1.6" fill="#505050"/>
<text x="1171" y="650.20" font-size="20.6" fill="#5c5c5c" stroke="#5c5c5c" stroke-width="0.45" textLength="42.9" lengthAdjust="spacingAndGlyphs">2.5M</text>
<rect x="1159.5" y="692.60" width="5.3" height="1.6" fill="#505050"/>
<text x="1171" y="701.00" font-size="20.6" fill="#5c5c5c" stroke="#5c5c5c" stroke-width="0.45" textLength="10.7" lengthAdjust="spacingAndGlyphs">0</text>
<rect x="1157.8" y="120.4" width="70.2" height="29.8" fill="#d75442"/>
<rect x="1159.5" y="134.7" width="4.5" height="1.5" fill="#f6d6d0"/>
 <text x="1171.8" y="141.6" font-size="19.2" fill="#ffffff" stroke="#ffffff" stroke-width="0.7" textLength="47" lengthAdjust="spacingAndGlyphs">14.65</text>
<rect x="98.4" y="706" width="1.6" height="6.5" fill="#4a4a4a"/>
<rect x="327.8" y="706" width="1.6" height="6.5" fill="#4a4a4a"/>
<rect x="578.0" y="706" width="1.6" height="6.5" fill="#4a4a4a"/>
<rect x="796.2" y="706" width="1.6" height="6.5" fill="#4a4a4a"/>
<rect x="958.7" y="706" width="1.6" height="6.5" fill="#4a4a4a"/>
<text x="58"  y="737.9" font-size="19.8" fill="#555555" textLength="79.8" lengthAdjust="spacingAndGlyphs">Tháng 11</text>
<text x="258"  y="737.9" font-size="19.8" fill="#555555" textLength="139.4" lengthAdjust="spacingAndGlyphs">Tháng Mười hai</text>
<text x="556"  y="737.9" font-size="19.8" fill="#555555" font-weight="bold" textLength="42.5" lengthAdjust="spacingAndGlyphs">2021</text>
<text x="751"  y="737.9" font-size="19.8" fill="#555555" textLength="90.2" lengthAdjust="spacingAndGlyphs">Tháng Hai</text>
<text x="923.6"  y="737.9" font-size="19.8" fill="#555555" textLength="70.8" lengthAdjust="spacingAndGlyphs">Tháng 3</text>
<circle cx="45" cy="650.1" r="29.3" fill="#ffffff" stroke="#e2e2e2" stroke-width="1.2"/>
<g><path d="M31.5,660.8C27.8,660.8 25.4,658.2 25.4,655C25.4,651.6 28,649.2 31.2,649.2C31.6,643.2 36,638 42.4,638C46.6,638 49.8,640.2 51.6,643.6C52.4,643.4 53.2,643.2 54.2,643.2C59.4,643.2 62.8,647 62.8,651.2C64.2,652.2 64.9,653.8 64.9,655.4C64.9,658.4 62.6,660.8 59.4,660.8Z" fill="#3a9be0"/><path d="M27,657.6L39.2,647.2L48.8,655.8L61,645" fill="none" stroke="#ffffff" stroke-width="2.6" stroke-linejoin="round"/><circle cx="39.2" cy="647.2" r="2" fill="#fff"/><circle cx="48.8" cy="655.8" r="2" fill="#fff"/></g>
<text x="93.3" y="657.7" font-size="25" fill="#3d9be4" stroke="rgba(255,255,255,0.92)" stroke-width="4.6" stroke-linejoin="round" paint-order="stroke fill" style="paint-order:stroke fill" textLength="243.6" lengthAdjust="spacingAndGlyphs">Chart by TradingView</text>
</svg>
</body>
</html>
